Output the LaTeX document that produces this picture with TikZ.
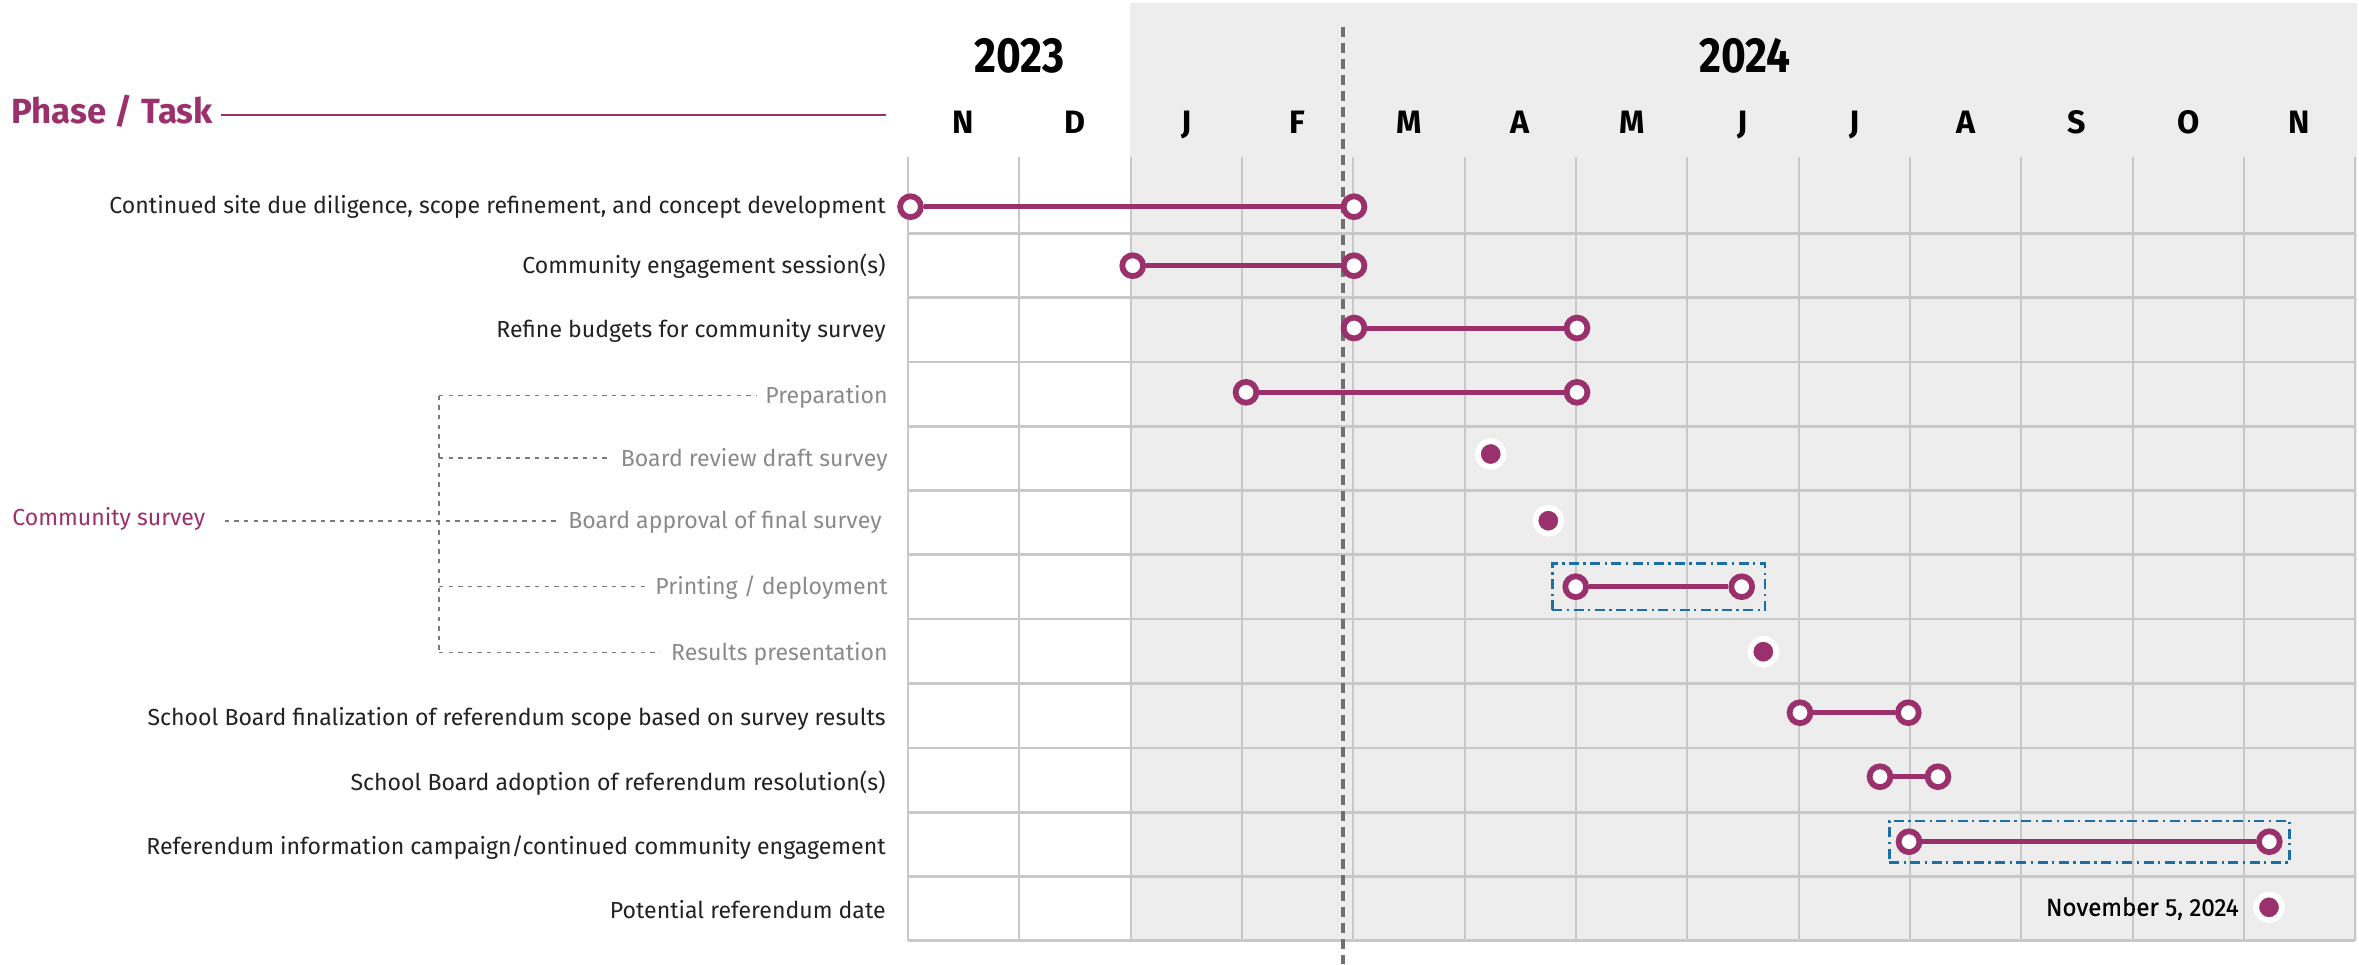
\documentclass[tikz,border=0pt]{standalone}
\usepackage{fontspec}
\setmainfont[FakeStretch=0.995]{Fira Sans}
\newfontfamily\condfont[FakeStretch=0.86]{Fira Sans}
\newfontfamily\medfont[FakeBold=0.6, FakeStretch=0.98]{Fira Sans}
\usetikzlibrary{fit}
\definecolor{mag}{HTML}{9B316C}
\definecolor{bluebox}{HTML}{1B6FA6}
\definecolor{gridc}{HTML}{C8C8C8}
\definecolor{bgc}{HTML}{EDEDED}
\definecolor{darktext}{HTML}{222222}
\definecolor{subtext}{HTML}{8A8A8A}
\definecolor{dashc}{HTML}{707070}
\definecolor{treec}{HTML}{7A7A7A}
\tikzset{
  lab/.style={inner sep=0pt, anchor=base east, text=darktext, font=\fontsize{11.6pt}{13pt}\selectfont},
  sublab/.style={lab, text=subtext},
  yearlab/.style={inner sep=0pt, anchor=base, text=black, font=\condfont\bfseries\fontsize{24.7pt}{28pt}\selectfont},
  monthlab/.style={inner sep=0pt, anchor=base, text=black, font=\bfseries\fontsize{16.2pt}{18pt}\selectfont},
  hollow/.style={circle, draw=mag, fill=white, line width=2.9pt, minimum size=10.4pt, inner sep=0pt},
  dotm/.style={circle, draw=white, fill=mag, line width=2.9pt, minimum size=12.9pt, inner sep=0pt},
  bar/.style={draw=mag, line width=2.5pt},
  gridv/.style={draw=gridc, line width=1pt},
  gridh/.style={draw=gridc, line width=1.3pt},
  treeline/.style={draw=treec, line width=0.75pt, dash pattern=on 2.2pt off 2.6pt},
  ddbox/.style={draw=bluebox, line width=1.4pt, dash pattern=on 5pt off 2.2pt on 1.2pt off 2.2pt, inner sep=0pt},
}
\begin{document}
\begin{tikzpicture}[x=0.5pt, y=-0.5pt]
\useasboundingbox (0,0) rectangle (2359,964);
\def\xz{908}
\def\cw{111.33}
% background of 2024
\fill[bgc] (1130,3) rectangle (2357,941);
% grid
\foreach \i in {0,...,13}{
  \pgfmathsetmacro\gx{\xz+\i*\cw}
  \draw[gridv] (\gx,157) -- (\gx,940.7);
}
\foreach \s in {233.3,297.3,362,426.7,490.5,554.3,619,683.5,748,812.3,876.7,940.7}{
  \draw[gridh] (\xz,\s) -- (2355.3,\s);
}
% header
\node[yearlab] (y2023) at (1019.5,72) {2023};
\node[yearlab] (y2024) at (1745,72) {2024};
\foreach \m [count=\k from 0] in {N,D,J,F,M,A,M,J,J,A,S,O,N}{
  \pgfmathsetmacro\mx{\xz+(\k+0.5)*\cw}
  \node[monthlab] (m\k) at (\mx,133.4) {\m};
}
\node[inner sep=0pt, anchor=base west, text=mag, font=\bfseries\fontsize{17.5pt}{20pt}\selectfont] (title) at (11,123) {Phase / Task};
\coordinate (titleend) at (886,115);
\draw[mag, line width=1pt] (title.east |- titleend) ++(8,0) -- (titleend);
% today line
\coordinate (todaytop) at (1342.7,27);
\coordinate (todaybot) at (1342.7,964);
\draw[dashc, line width=2pt, dash pattern=on 5pt off 3pt] (todaytop) -- (todaybot);
% task labels
\node[lab] (t1) at (886,213) {Continued site due diligence, scope refinement, and concept development};
\node[lab] (t2) at (886,273.7) {Community engagement session(s)};
\node[lab] (t3) at (886,337) {Refine budgets for community survey};
\node[sublab] (t4) at (888,403.7) {Preparation};
\node[sublab] (t5) at (888,466) {Board review draft survey};
\node[sublab] (t6) at (882,528) {Board approval of final survey};
\node[sublab] (t7) at (888,594.7) {Printing / deployment};
\node[sublab] (t8) at (888,660.7) {Results presentation};
\node[lab] (t9) at (886,725.3) {School Board finalization of referendum scope based on survey results};
\node[lab] (t10) at (886,790.3) {School Board adoption of referendum resolution(s)};
\node[lab] (t11) at (886,854.7) {Referendum information campaign/continued community engagement};
\node[lab] (t12) at (886,918.7) {Potential referendum date};
% community survey tree
\node[inner sep=0pt, anchor=base west, text=mag, font=\fontsize{11.6pt}{13pt}\selectfont] (cs) at (12,525) {Community survey};
\coordinate (b1) at (439,395.7);
\coordinate (b2) at (439,458);
\coordinate (b3) at (439,521);
\coordinate (b4) at (439,586.7);
\coordinate (b5) at (439,652.7);
\draw[treeline] (b1) -- (b5);
\draw[treeline, shorten >=4pt] (b1) -- (b1 -| t4.west);
\draw[treeline, shorten >=5pt] (b2) -- (b2 -| t5.west);
\draw[treeline, shorten <=9.5pt, shorten >=5.5pt] (cs.east |- b3) -- (b3 -| t6.west);
\draw[treeline, shorten >=3pt] (b4) -- (b4 -| t7.west);
\draw[treeline, shorten >=5.5pt] (b5) -- (b5 -| t8.west);
% milestones
\node[hollow] (r1a) at (910.5,206.7) {};
\node[hollow] (r1b) at (1354,206.7) {};
\node[hollow] (r2a) at (1132.7,265.7) {};
\node[hollow] (r2b) at (1354,265.7) {};
\node[hollow] (r3a) at (1354,328) {};
\node[hollow] (r3b) at (1577,328) {};
\node[hollow] (r4a) at (1246,392.3) {};
\node[hollow] (r4b) at (1577,392.3) {};
\node[dotm] (r5) at (1490.7,454) {};
\node[dotm] (r6) at (1548.3,520.7) {};
\node[hollow] (r7a) at (1575.7,586.7) {};
\node[hollow] (r7b) at (1741.7,586.7) {};
\node[dotm] (r8) at (1763.3,651.7) {};
\node[hollow] (r9a) at (1800,712.7) {};
\node[hollow] (r9b) at (1908.3,712.7) {};
\node[hollow] (r10a) at (1880,776.7) {};
\node[hollow] (r10b) at (1938,776.7) {};
\node[hollow] (r11a) at (1909,841.7) {};
\node[hollow] (r11b) at (2269.3,841.7) {};
\node[dotm] (r12) at (2269,907.3) {};
\node[inner sep=0pt, anchor=base east, text=black, font=\medfont\fontsize{12.3pt}{14pt}\selectfont] (nov) at (2239,915.8) {November 5, 2024};
% bars
\draw[bar] (r1a) -- (r1b);
\draw[bar] (r2a) -- (r2b);
\draw[bar] (r3a) -- (r3b);
\draw[bar] (r4a) -- (r4b);
\draw[bar] (r7a) -- (r7b);
\draw[bar] (r9a) -- (r9b);
\draw[bar] (r10a) -- (r10b);
\draw[bar] (r11a) -- (r11b);
% dash-dot boxes
\node[ddbox, fit=(r7a)(r7b), inner xsep=5pt, inner ysep=5pt] (box7) {};
\node[ddbox, fit=(r11a)(r11b), inner xsep=3.3pt, inner ysep=3.7pt] (box11) {};
\end{tikzpicture}
\end{document}
